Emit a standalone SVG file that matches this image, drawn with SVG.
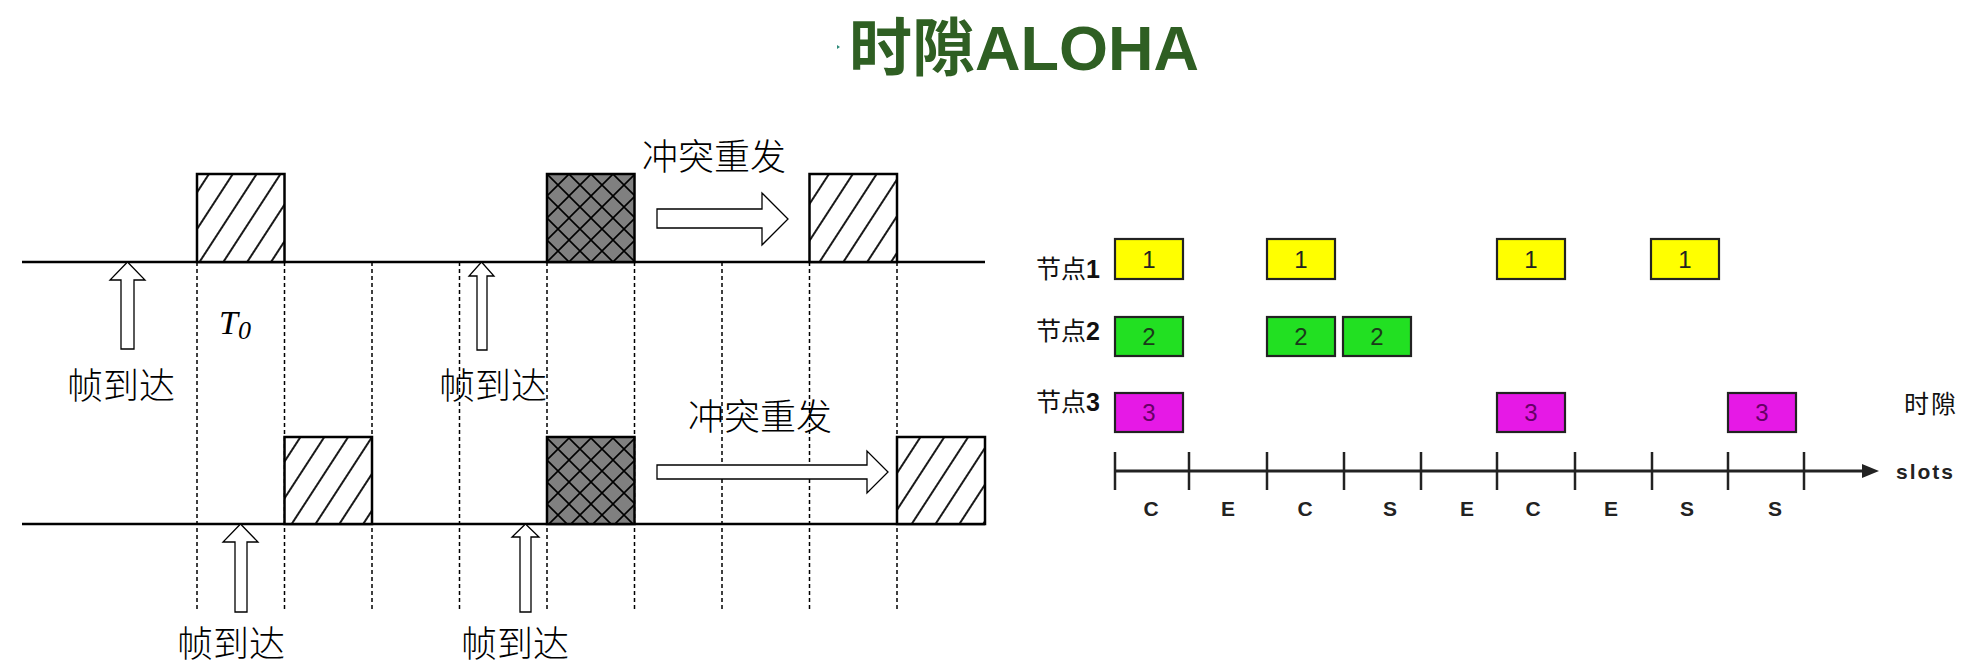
<svg xmlns="http://www.w3.org/2000/svg" width="1973" height="669" viewBox="0 0 1973 669">
<style>
.cn{font-family:"Noto Sans CJK SC",sans-serif;font-size:36px;fill:#000;font-weight:300}
.box{stroke:#000;stroke-width:2.5}
.dash{stroke:#000;stroke-width:1.5;stroke-dasharray:4 3;fill:none}
.base{stroke:#000;stroke-width:2.5}
.harrow{fill:#fff;stroke:#000;stroke-width:1.3}
.tick{stroke:#222;stroke-width:2.5}
.nb{stroke:#222;stroke-width:2.2}
.y{fill:#FFFF00}.g{fill:#22E022}.m{fill:#E619E6}
.num{font-family:"Liberation Sans",sans-serif;font-size:24px;text-anchor:middle}
.lbl{font-family:"Liberation Sans",sans-serif;font-size:21px;font-weight:bold;text-anchor:middle;fill:#222}
.nl{font-family:"Noto Sans CJK SC",sans-serif;font-size:25px;fill:#111}
.title{font-family:"Liberation Sans","Noto Sans CJK SC",sans-serif;font-size:63px;font-weight:bold;fill:#2F5F23}
</style>
<defs>
<pattern id="hatch" patternUnits="userSpaceOnUse" width="20" height="20" patternTransform="rotate(33)">
<rect width="20" height="20" fill="#fff"/>
<line x1="10" y1="0" x2="10" y2="20" stroke="#000" stroke-width="1.8"/>
</pattern>
<pattern id="cross" patternUnits="userSpaceOnUse" x="547" y="174" width="22" height="22">
<rect width="22" height="22" fill="#808080"/>
<path d="M-1 -1L23 23M23 -1L-1 23" stroke="#000" stroke-width="1.6"/>
</pattern>
</defs>
<rect width="1973" height="669" fill="#fff"/>

<g id="title">
<polygon points="837,45 840,47 837,49" fill="#2E8B7A"/>
<text class="title" x="849" y="70">时隙ALOHA</text>
</g>

<g id="connectors">
<line class="base" x1="22" y1="262" x2="985" y2="262"/>
<line class="base" x1="22" y1="524" x2="985" y2="524"/>
<g class="dash">
<line x1="197" y1="262" x2="197" y2="612"/>
<line x1="284.5" y1="262" x2="284.5" y2="612"/>
<line x1="372" y1="262" x2="372" y2="612"/>
<line x1="459.5" y1="262" x2="459.5" y2="612"/>
<line x1="547" y1="262" x2="547" y2="612"/>
<line x1="634.5" y1="262" x2="634.5" y2="612"/>
<line x1="722" y1="262" x2="722" y2="612"/>
<line x1="809.5" y1="262" x2="809.5" y2="612"/>
<line x1="897" y1="262" x2="897" y2="612"/>
</g>
<polygon class="harrow" points="657,209 762,209 762,193 788,219 762,245 762,228 657,228"/>
<polygon class="harrow" points="657,465 867,465 867,451 888,472 867,493 867,479 657,479"/>
<polygon class="harrow" points="127.5,262 145,280 134,280 134,349 121,349 121,280 110,280"/>
<polygon class="harrow" points="481.5,262 494,276 487,276 487,350 477,350 477,276 469,276"/>
<polygon class="harrow" points="240.5,524 258,542 247,542 247,612 235,612 235,542 223,542"/>
<polygon class="harrow" points="525.5,524 539,537 531,537 531,612 520,612 520,537 512,537"/>
<line x1="1115" y1="471" x2="1866" y2="471" stroke="#222" stroke-width="3"/>
<polygon points="1862,464 1879,471 1862,478" fill="#222"/>
<g class="tick">
<line x1="1115" y1="452" x2="1115" y2="490"/>
<line x1="1189" y1="452" x2="1189" y2="490"/>
<line x1="1267" y1="452" x2="1267" y2="490"/>
<line x1="1344" y1="452" x2="1344" y2="490"/>
<line x1="1421" y1="452" x2="1421" y2="490"/>
<line x1="1497" y1="452" x2="1497" y2="490"/>
<line x1="1575" y1="452" x2="1575" y2="490"/>
<line x1="1652" y1="452" x2="1652" y2="490"/>
<line x1="1728" y1="452" x2="1728" y2="490"/>
<line x1="1804" y1="452" x2="1804" y2="490"/>
</g>
</g>

<g id="frame-top-1"><rect class="box" x="197" y="174" width="87.5" height="88" fill="url(#hatch)"/></g>
<g id="frame-top-collide"><rect class="box" x="547" y="174" width="87.5" height="88" fill="url(#cross)"/></g>
<g id="frame-top-retx"><rect class="box" x="809.5" y="174" width="87.5" height="88" fill="url(#hatch)"/></g>
<g id="frame-bot-1"><rect class="box" x="284.5" y="437" width="87.5" height="87" fill="url(#hatch)"/></g>
<g id="frame-bot-collide"><rect class="box" x="547" y="437" width="87.5" height="87" fill="url(#cross)"/></g>
<g id="frame-bot-retx"><rect class="box" x="897" y="437" width="88" height="87" fill="url(#hatch)"/></g>

<g id="left-labels">
<text class="cn" x="642" y="170">冲突重发</text>
<text class="cn" x="688" y="430">冲突重发</text>
<text class="cn" x="67" y="399">帧到达</text>
<text class="cn" x="439" y="399">帧到达</text>
<text class="cn" x="177" y="657">帧到达</text>
<text class="cn" x="461" y="657">帧到达</text>
<text font-family="Liberation Serif,serif" font-style="italic" font-size="34" x="219" y="334">T<tspan font-size="26" dy="5">0</tspan></text>
</g>

<g id="node1">
<text class="nl" x="1036" y="278">节点<tspan font-family="Liberation Sans,sans-serif" font-weight="bold">1</tspan></text>
<rect class="nb y" x="1115" y="239" width="68" height="40"/><text class="num" x="1149" y="268" fill="#222">1</text>
<rect class="nb y" x="1267" y="239" width="68" height="40"/><text class="num" x="1301" y="268" fill="#222">1</text>
<rect class="nb y" x="1497" y="239" width="68" height="40"/><text class="num" x="1531" y="268" fill="#222">1</text>
<rect class="nb y" x="1651" y="239" width="68" height="40"/><text class="num" x="1685" y="268" fill="#222">1</text>
</g>
<g id="node2">
<text class="nl" x="1036" y="340">节点<tspan font-family="Liberation Sans,sans-serif" font-weight="bold">2</tspan></text>
<rect class="nb g" x="1115" y="317" width="68" height="39"/><text class="num" x="1149" y="345" fill="#1A3A1A">2</text>
<rect class="nb g" x="1267" y="317" width="68" height="39"/><text class="num" x="1301" y="345" fill="#1A3A1A">2</text>
<rect class="nb g" x="1343" y="317" width="68" height="39"/><text class="num" x="1377" y="345" fill="#1A3A1A">2</text>
</g>
<g id="node3">
<text class="nl" x="1036" y="411">节点<tspan font-family="Liberation Sans,sans-serif" font-weight="bold">3</tspan></text>
<rect class="nb m" x="1115" y="393" width="68" height="39"/><text class="num" x="1149" y="421" fill="#660066">3</text>
<rect class="nb m" x="1497" y="393" width="68" height="39"/><text class="num" x="1531" y="421" fill="#660066">3</text>
<rect class="nb m" x="1728" y="393" width="68" height="39"/><text class="num" x="1762" y="421" fill="#660066">3</text>
</g>

<g id="axis-labels">
<text class="nl" x="1904" y="413" letter-spacing="2">时隙</text>
<text font-family="Liberation Sans,sans-serif" font-size="21" font-weight="bold" fill="#222" x="1896" y="479" textLength="57">slots</text>
<text class="lbl" x="1151" y="516">C</text>
<text class="lbl" x="1228" y="516">E</text>
<text class="lbl" x="1305" y="516">C</text>
<text class="lbl" x="1390" y="516">S</text>
<text class="lbl" x="1467" y="516">E</text>
<text class="lbl" x="1533" y="516">C</text>
<text class="lbl" x="1611" y="516">E</text>
<text class="lbl" x="1687" y="516">S</text>
<text class="lbl" x="1775" y="516">S</text>
</g>
</svg>
